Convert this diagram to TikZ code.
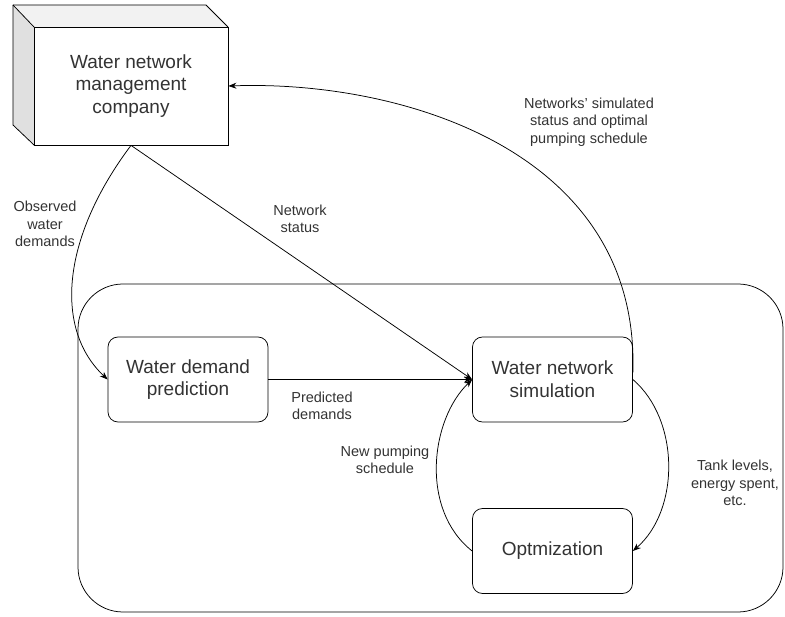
\documentclass[tikz,border=0pt]{standalone}
\usepackage{fontspec}
\setmainfont{Liberation Sans}
\usetikzlibrary{arrows.meta}
\definecolor{sidegray}{HTML}{E0E0E0}
\definecolor{topgray}{HTML}{F2F2F2}
\definecolor{txtgray}{HTML}{333333}
\begin{document}
\begin{tikzpicture}[x=1pt, y=-1pt, line width=0.75pt, >={Stealth[length=8pt, width=6pt, inset=2.5pt]},
    every node/.style={text=txtgray},
    block/.style={draw, rounded corners=10pt, minimum width=160pt, minimum height=85pt,
      align=center, font=\fontsize{19}{22.8}\selectfont},
    lbl/.style={align=center, font=\fontsize{14.5}{17.5}\selectfont}]
      \useasboundingbox (0,0) rectangle (785,617);

      % 3d box of the company
      \fill[topgray] (13,5) -- (206,5) -- (228,27) -- (34,27) -- cycle;
      \fill[sidegray] (13,5) -- (34,27) -- (34,145) -- (13,125) -- cycle;
      \draw (13,5) -- (206,5) -- (228,27);
      \draw (13,5) -- (34,27);
      \draw (13,5) -- (13,125) -- (34,145);
      \node[draw, fill=white, minimum width=194pt, minimum height=118pt, align=center,
        font=\fontsize{19}{22.8}\selectfont] (company) at (131,86)
        {Water network\\management\\company};

      % container round the tools
      \node[draw, rounded corners=45pt, minimum width=705pt, minimum height=328pt] (tools) at (430.5,448) {};

      % the three blocks
      \node[block] (pred) at (188,379.5) {Water demand\\prediction};
      \node[block] (sim)  at (552.5,379.5) {Water network\\simulation};
      \node[block] (opt)  at (552.5,551) {Optmization};

      % connectors
      \draw[->] (company.south) .. controls (60,240) and (55,330) .. (pred.west);
      \draw[->] (company.south) -- (sim.west);
      \draw[->] (pred.east) -- (sim.west);
      \draw[->] (opt.west) .. controls (420,510) and (430,420) .. (sim.west);
      \draw[->] (sim.east) .. controls (680,420) and (680,510) .. (opt.east);
      \draw[->] (sim.5) .. controls (640,150) and (400,80) .. (company.east);

      % labels
      \node[lbl] (obs)   at (45,224)  {Observed\\water\\demands};
      \node[lbl] (netst) at (300,219) {Network\\status};
      \node[lbl] (prd)   at (322,406) {Predicted\\demands};
      \node[lbl] (simst) at (589,122) {Networks' simulated\\status and optimal\\pumping schedule};
      \node[lbl] (tank)  at (735,483) {Tank levels,\\energy spent,\\etc.};
      \node[lbl] (newp)  at (385,460) {New pumping\\schedule};
      \end{tikzpicture}
\end{document}
